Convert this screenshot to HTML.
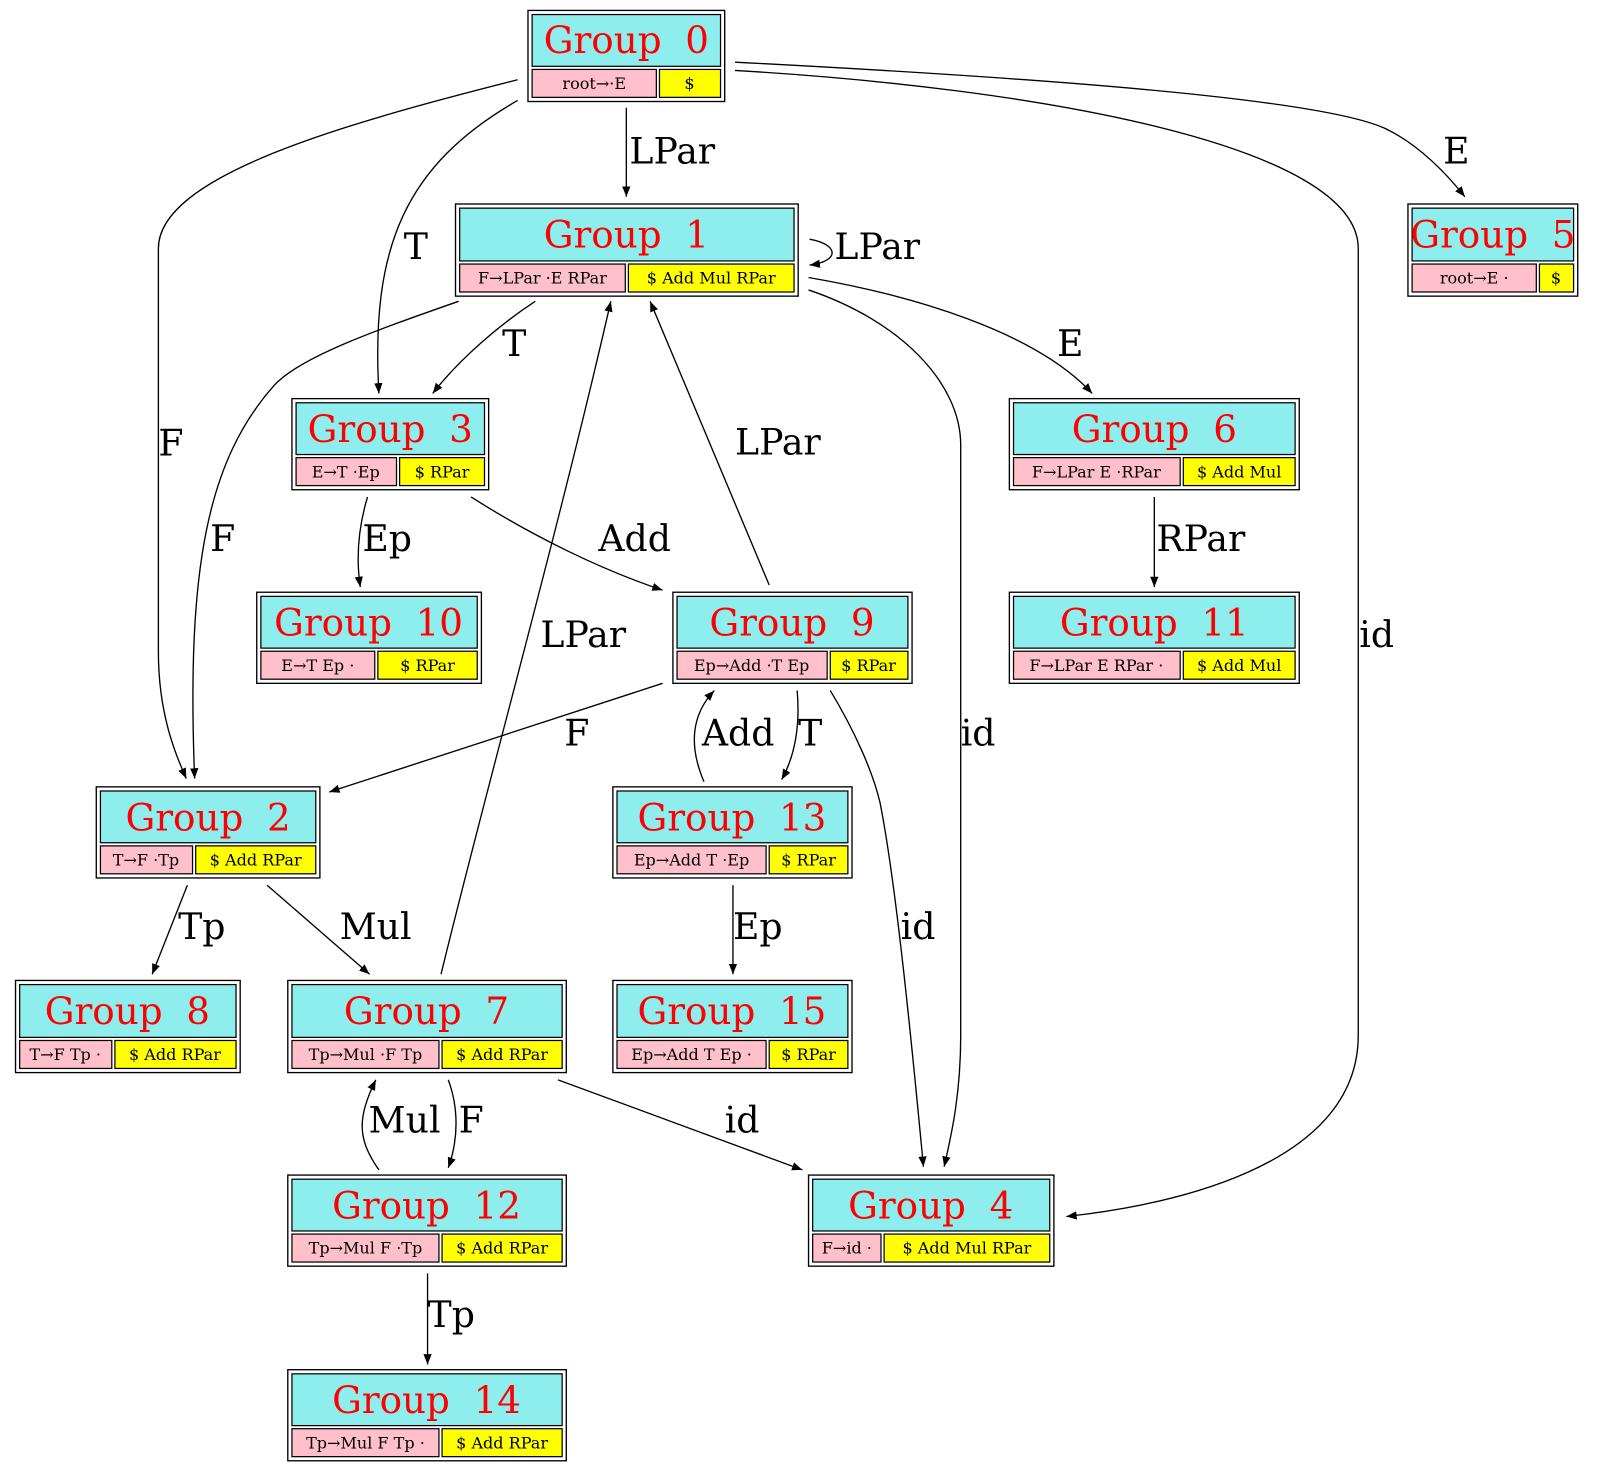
<!DOCTYPE html>
<html><head><meta charset="utf-8"><style>
html,body{margin:0;padding:0;background:#fff;}
svg{display:block;}
.t{font-family:"DejaVu Serif",serif;font-size:36px;fill:#f00;text-anchor:middle;}
.s{font-family:"DejaVu Serif",serif;font-size:15.5px;fill:#000;text-anchor:middle;}
.l{font-family:"DejaVu Serif",serif;font-size:35px;fill:#000;}
.e{fill:none;stroke:#000;stroke-width:1.3;marker-end:url(#a);}
.o{fill:#fff;stroke:#000;stroke-width:1.3;}
.c{fill:#8eeeee;stroke:#000;stroke-width:1.2;}
.p{fill:#ffc0cb;stroke:#000;stroke-width:1.2;}
.y{fill:#ffff00;stroke:#000;stroke-width:1.2;}
</style></head><body>
<svg width="1615" height="1465" viewBox="0 0 1560 1415" xmlns="http://www.w3.org/2000/svg">
<defs><marker id="a" viewBox="0 0 10 10" refX="10" refY="5" markerWidth="10" markerHeight="10" markerUnits="userSpaceOnUse" orient="auto"><path d="M0,1 L10,5 L0,9 z" fill="#000"/></marker></defs>

<!-- edges -->
<path class="e" d="M605,104 L605,190"/><text class="l" x="608" y="158">LPar</text>
<path class="e" d="M710,60 C1000,75 1280,95 1340,125 C1370,140 1395,165 1415,190"/><text class="l" x="1394" y="158">E</text>
<path class="e" d="M710,68 C1000,85 1312,140 1312,240 L1312,1000 C1312,1130 1120,1165 1030,1175"/><text class="l" x="1313" y="625">id</text>
<path class="e" d="M500,77 C330,120 153,170 153,240 L153,630 C153,690 170,730 180,752"/><text class="l" x="153" y="440">F</text>
<path class="e" d="M500,97 C390,160 358,240 366,380"/><text class="l" x="390" y="250">T</text>
<path class="e" d="M782,231 C810,236 812,252 782,256"/><text class="l" x="806" y="250">LPar</text>
<path class="e" d="M517,291 C485,312 445,345 418,380"/><text class="l" x="485" y="344">T</text>
<path class="e" d="M443,291 C360,320 290,345 265,372 C200,445 180,550 188,752"/><text class="l" x="203" y="532">F</text>
<path class="e" d="M781,268 C880,285 1000,320 1055,380"/><text class="l" x="1021" y="344">E</text>
<path class="e" d="M781,280 C870,310 928,370 928,430 L928,1000 C928,1060 918,1100 912,1127"/><text class="l" x="928" y="720">id</text>
<path class="e" d="M355,480 C346,510 344,540 348,567"/><text class="l" x="350" y="532">Ep</text>
<path class="e" d="M455,480 C515,518 580,550 640,570"/><text class="l" x="578" y="532">Add</text>
<path class="e" d="M1115,480 L1115,567"/><text class="l" x="1117" y="532">RPar</text>
<path class="e" d="M743,565 L628,291"/><text class="l" x="710" y="439">LPar</text>
<path class="e" d="M426,941 C470,760 540,510 590,291"/><text class="l" x="522" y="625">LPar</text>
<path class="e" d="M640,660 L318,765"/><text class="l" x="545" y="720">F</text>
<path class="e" d="M680,755 C665,720 668,690 690,667"/><text class="l" x="678" y="720">Add</text>
<path class="e" d="M770,667 C773,700 768,730 755,753"/><text class="l" x="771" y="720">T</text>
<path class="e" d="M802,667 C825,705 843,745 850,775 C865,850 880,1000 892,1127"/><text class="l" x="870" y="907">id</text>
<path class="e" d="M181,855 L147,941"/><text class="l" x="172" y="907">Tp</text>
<path class="e" d="M258,855 L357,941"/><text class="l" x="328" y="907">Mul</text>
<path class="e" d="M708,855 L708,941"/><text class="l" x="708" y="907">Ep</text>
<path class="e" d="M433,1043 C443,1070 443,1100 433,1128"/><text class="l" x="443" y="1094">F</text>
<path class="e" d="M366,1130 C345,1100 345,1080 363,1043"/><text class="l" x="356" y="1094">Mul</text>
<path class="e" d="M539,1043 L775,1130"/><text class="l" x="700" y="1094">id</text>
<path class="e" d="M413,1230 L413,1318"/><text class="l" x="413" y="1282">Tp</text>

<!-- nodes -->
<g><rect class="o" x="510" y="10" width="190" height="88"/><rect class="c" x="514" y="14" width="182" height="50"/><text class="t" x="605" y="51" xml:space="preserve">Group  0</text><rect class="p" x="514" y="67" width="120" height="27"/><rect class="y" x="637" y="67" width="59" height="27"/><text class="s" x="574" y="86">root→·E</text><text class="s" x="666" y="86">$</text></g>

<g><rect class="o" x="440" y="197" width="331" height="89"/><rect class="c" x="444" y="201" width="323" height="51"/><text class="t" x="605" y="239" xml:space="preserve">Group  1</text><rect class="p" x="444" y="255" width="160" height="27"/><rect class="y" x="607" y="255" width="160" height="27"/><text class="s" x="524" y="274">F→LPar ·E RPar</text><text class="s" x="687" y="274">$ Add Mul RPar</text></g>

<g><rect class="o" x="1360" y="197" width="164" height="89"/><rect class="c" x="1364" y="201" width="156" height="51"/><text class="t" x="1442" y="239" xml:space="preserve">Group  5</text><rect class="p" x="1364" y="255" width="120" height="27"/><rect class="y" x="1487" y="255" width="33" height="27"/><text class="s" x="1424" y="274">root→E ·</text><text class="s" x="1503" y="274">$</text></g>

<g><rect class="o" x="282" y="385" width="190" height="88"/><rect class="c" x="286" y="389" width="182" height="50"/><text class="t" x="377" y="427" xml:space="preserve">Group  3</text><rect class="p" x="286" y="442" width="97" height="27"/><rect class="y" x="386" y="442" width="82" height="27"/><text class="s" x="334" y="461">E→T ·Ep</text><text class="s" x="427" y="461">$ RPar</text></g>

<g><rect class="o" x="975" y="385" width="280" height="88"/><rect class="c" x="979" y="389" width="272" height="50"/><text class="t" x="1115" y="427" xml:space="preserve">Group  6</text><rect class="p" x="979" y="442" width="161" height="27"/><rect class="y" x="1143" y="442" width="108" height="27"/><text class="s" x="1059" y="461">F→LPar E ·RPar</text><text class="s" x="1197" y="461">$ Add Mul</text></g>

<g><rect class="o" x="248" y="572" width="217" height="88"/><rect class="c" x="252" y="576" width="209" height="50"/><text class="t" x="356" y="614" xml:space="preserve">Group  10</text><rect class="p" x="252" y="629" width="110" height="27"/><rect class="y" x="365" y="629" width="96" height="27"/><text class="s" x="307" y="648">E→T Ep ·</text><text class="s" x="413" y="648">$ RPar</text></g>

<g><rect class="o" x="650" y="572" width="231" height="88"/><rect class="c" x="654" y="576" width="223" height="50"/><text class="t" x="765" y="614" xml:space="preserve">Group  9</text><rect class="p" x="654" y="629" width="145" height="27"/><rect class="y" x="802" y="629" width="75" height="27"/><text class="s" x="726" y="648">Ep→Add ·T Ep</text><text class="s" x="839" y="648">$ RPar</text></g>

<g><rect class="o" x="975" y="572" width="280" height="88"/><rect class="c" x="979" y="576" width="272" height="50"/><text class="t" x="1115" y="614" xml:space="preserve">Group  11</text><rect class="p" x="979" y="629" width="161" height="27"/><rect class="y" x="1143" y="629" width="108" height="27"/><text class="s" x="1059" y="648">F→LPar E RPar ·</text><text class="s" x="1197" y="648">$ Add Mul</text></g>

<g><rect class="o" x="93" y="760" width="216" height="88"/><rect class="c" x="97" y="764" width="208" height="50"/><text class="t" x="201" y="802" xml:space="preserve">Group  2</text><rect class="p" x="97" y="817" width="89" height="27"/><rect class="y" x="189" y="817" width="116" height="27"/><text class="s" x="141" y="836">T→F ·Tp</text><text class="s" x="247" y="836">$ Add RPar</text></g>

<g><rect class="o" x="592" y="760" width="231" height="88"/><rect class="c" x="596" y="764" width="223" height="50"/><text class="t" x="707" y="802" xml:space="preserve">Group  13</text><rect class="p" x="596" y="817" width="144" height="27"/><rect class="y" x="743" y="817" width="76" height="27"/><text class="s" x="668" y="836">Ep→Add T ·Ep</text><text class="s" x="781" y="836">$ RPar</text></g>

<g><rect class="o" x="15" y="947" width="217" height="89"/><rect class="c" x="19" y="951" width="209" height="51"/><text class="t" x="123" y="989" xml:space="preserve">Group  8</text><rect class="p" x="19" y="1005" width="89" height="27"/><rect class="y" x="111" y="1005" width="117" height="27"/><text class="s" x="63" y="1024">T→F Tp ·</text><text class="s" x="169" y="1024">$ Add RPar</text></g>

<g><rect class="o" x="278" y="947" width="269" height="89"/><rect class="c" x="282" y="951" width="261" height="51"/><text class="t" x="412" y="989" xml:space="preserve">Group  7</text><rect class="p" x="282" y="1005" width="142" height="27"/><rect class="y" x="427" y="1005" width="116" height="27"/><text class="s" x="353" y="1024">Tp→Mul ·F Tp</text><text class="s" x="485" y="1024">$ Add RPar</text></g>

<g><rect class="o" x="592" y="947" width="231" height="89"/><rect class="c" x="596" y="951" width="223" height="51"/><text class="t" x="707" y="989" xml:space="preserve">Group  15</text><rect class="p" x="596" y="1005" width="144" height="27"/><rect class="y" x="743" y="1005" width="76" height="27"/><text class="s" x="668" y="1024">Ep→Add T Ep ·</text><text class="s" x="781" y="1024">$ RPar</text></g>

<g><rect class="o" x="278" y="1135" width="269" height="88"/><rect class="c" x="282" y="1139" width="261" height="50"/><text class="t" x="412" y="1177" xml:space="preserve">Group  12</text><rect class="p" x="282" y="1192" width="142" height="27"/><rect class="y" x="427" y="1192" width="116" height="27"/><text class="s" x="353" y="1211">Tp→Mul F ·Tp</text><text class="s" x="485" y="1211">$ Add RPar</text></g>

<g><rect class="o" x="781" y="1135" width="237" height="88"/><rect class="c" x="785" y="1139" width="229" height="50"/><text class="t" x="899" y="1177" xml:space="preserve">Group  4</text><rect class="p" x="785" y="1192" width="66" height="27"/><rect class="y" x="854" y="1192" width="160" height="27"/><text class="s" x="818" y="1211">F→id ·</text><text class="s" x="934" y="1211">$ Add Mul RPar</text></g>

<g><rect class="o" x="278" y="1323" width="269" height="88"/><rect class="c" x="282" y="1327" width="261" height="50"/><text class="t" x="412" y="1365" xml:space="preserve">Group  14</text><rect class="p" x="282" y="1380" width="142" height="27"/><rect class="y" x="427" y="1380" width="116" height="27"/><text class="s" x="353" y="1399">Tp→Mul F Tp ·</text><text class="s" x="485" y="1399">$ Add RPar</text></g>
</svg>
</body></html>
